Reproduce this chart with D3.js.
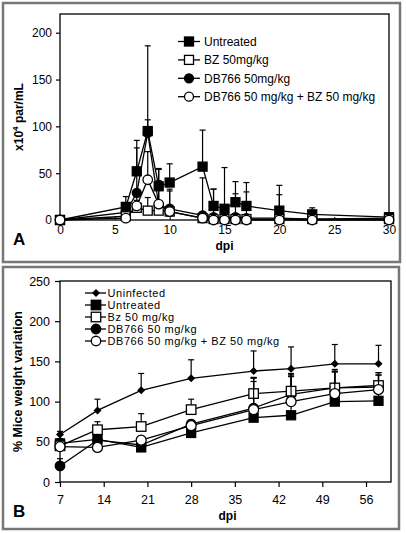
<!DOCTYPE html>
<html><head><meta charset="utf-8">
<script src="https://cdn.jsdelivr.net/npm/d3@7"></script>
<style>body{margin:0;background:#fff}svg{display:block}text{font-family:"Liberation Sans",Arial,sans-serif}</style>
</head><body>
<svg id="c" width="406" height="533"></svg>
<script>
// ---------- Panel A data ----------
const daysA = [0, 6, 7, 8, 9, 10, 13, 14, 15, 16, 17, 20, 23, 30];
const untreatedA = [0, 14, 52, 95, 36, 40, 57, 15, 12, 19, 15, 10, 6, 3];
const untreatedA_sd = [0, 11, 33, 91, 19, 20, 39, 18, 44, 22, 25, 27, 7, 2];
const bzA = [0, 4, 13, 10, 10, 9, 2, 1, 1, 1, 1, 1, 1, 1];
const bzA_sd = [0, 3, 8, 14, 8, 6, 1, 1, 1, 1, 1, 1, 1, 1];
const db766A = [0, 8, 29, 93, 16, 12, 5, 3, 2, 3, 2, 2, 1, 2];
const db766A_sd = [0, 10, 48, 14, 38, 21, 40, 30, 2, 25, 28, 25, 1, 1];
const comboA = [0, 2, 15, 43, 17, 9, 2, 0, 0, 0, 0, 0, 0, 0];
const comboA_sd = [0, 2, 10, 30, 25, 22, 1, 0, 0, 0, 0, 0, 0, 0];
const xTicksA = [0, 5, 10, 15, 20, 25, 30];
const yTicksA = [0, 50, 100, 150, 200];
const legendA = ["Untreated", "BZ 50mg/kg", "DB766 50mg/kg", "DB766 50 mg/kg + BZ 50 mg/kg"];

// ---------- Panel B data ----------
const daysB = [7, 13, 20, 28, 38, 44, 51, 58];
const uninfectedB = [59, 89, 114, 129, 138, 141, 147, 147];
const uninfectedB_sd = [4, 14, 21, 23, 25, 27, 24, 23];
const untreatedB = [48, 53, 43, 61, 80, 83, 100, 101];
const untreatedB_sd = [6, 8, 4, 6, 45, 48, 38, 32];
const bzB = [45, 65, 69, 90, 110, 113, 117, 120];
const bzB_sd = [5, 10, 16, 13, 20, 21, 20, 16];
const db766B = [20, 52, 46, 72, 92, 109, 117, 118];
const db766B_sd = [9, 6, 5, 5, 37, 26, 23, 18];
const comboB = [44, 43, 52, 70, 90, 100, 110, 115];
const comboB_sd = [4, 4, 5, 5, 40, 32, 27, 18];
const xTicksB = [7, 14, 21, 28, 35, 42, 49, 56];
const yTicksB = [0, 50, 100, 150, 200, 250];
const legendB = ["Uninfected", "Untreated", "Bz 50 mg/kg", "DB766 50 mg/kg", "DB766 50 mg/kg + BZ 50 mg/kg"];

const svg = d3.select("#c");
const FONT = "'Liberation Sans', Arial, sans-serif";

// outer panel frames
svg.append("rect").attr("x", 3).attr("y", 3).attr("width", 397).attr("height", 259)
  .attr("fill", "none").attr("stroke", "#777").attr("stroke-width", 2.5);
svg.append("rect").attr("x", 3).attr("y", 267).attr("width", 396).attr("height", 262)
  .attr("fill", "none").attr("stroke", "#777").attr("stroke-width", 2.5);

function marker(g, type, x, y, s) {
  if (type === "fsq" || type === "osq") {
    g.append("rect").attr("x", x - s / 2).attr("y", y - s / 2).attr("width", s).attr("height", s)
      .attr("fill", type === "fsq" ? "#000" : "#fff").attr("stroke", "#000").attr("stroke-width", 1.3);
  } else if (type === "fci" || type === "oci") {
    g.append("circle").attr("cx", x).attr("cy", y).attr("r", s / 2)
      .attr("fill", type === "fci" ? "#000" : "#fff").attr("stroke", "#000").attr("stroke-width", 1.3);
  } else if (type === "dia") {
    const r = s / 2;
    g.append("path").attr("d", `M${x},${y - r}L${x + r},${y}L${x},${y + r}L${x - r},${y}Z`).attr("fill", "#000");
  }
}

function series(g, x, y, days, vals, sds, type, size) {
  const line = d3.line().x((d, i) => x(days[i])).y(d => y(d));
  days.forEach((d, i) => {
    if (sds[i] > 0.5) {
      const top = y(vals[i] + sds[i]);
      g.append("line").attr("x1", x(d)).attr("x2", x(d)).attr("y1", y(vals[i])).attr("y2", top)
        .attr("stroke", "#000").attr("stroke-width", 1.2);
      g.append("line").attr("x1", x(d) - 3).attr("x2", x(d) + 3).attr("y1", top).attr("y2", top)
        .attr("stroke", "#000").attr("stroke-width", 1.2);
    }
  });
  g.append("path").datum(vals).attr("d", line).attr("fill", "none").attr("stroke", "#000").attr("stroke-width", 1.3);
  vals.forEach((v, i) => marker(g, type, x(days[i]), y(v), size));
}

// ================= Panel A =================
{
  const L = 60, R = 389, T = 14, B = 220;
  const x = d3.scaleLinear().domain([0, 30]).range([L, R]);
  const y = d3.scaleLinear().domain([0, 220]).range([B, T]);
  const g = svg.append("g");
  g.append("rect").attr("x", L).attr("y", T).attr("width", R - L).attr("height", B - T)
    .attr("fill", "none").attr("stroke", "#000").attr("stroke-width", 1.3);
  const ya = g.append("g").attr("transform", `translate(${L},0)`)
    .call(d3.axisLeft(y).tickValues(yTicksA).tickSize(4).tickPadding(4));
  ya.select(".domain").remove();
  ya.selectAll("line").attr("stroke-width", 1.2);
  ya.selectAll("text").attr("font-size", 12).attr("font-family", FONT).attr("fill", "#000");
  const xa = g.append("g").attr("transform", `translate(0,${B})`)
    .call(d3.axisBottom(x).tickValues(xTicksA).tickSize(-3).tickPadding(5.5));
  xa.select(".domain").remove();
  xa.selectAll("line").attr("stroke-width", 1);
  xa.selectAll("text").attr("font-size", 12).attr("font-family", FONT).attr("fill", "#000");

  series(g, x, y, daysA, db766A, db766A_sd, "fci", 9);
  series(g, x, y, daysA, untreatedA, untreatedA_sd, "fsq", 9);
  series(g, x, y, daysA, bzA, bzA_sd, "osq", 9);
  series(g, x, y, daysA, comboA, comboA_sd, "oci", 9.5);

  const types = ["fsq", "osq", "fci", "oci"];
  legendA.forEach((t, i) => {
    const cy = 41.5 + i * 18.4;
    g.append("line").attr("x1", 178).attr("x2", 200).attr("y1", cy).attr("y2", cy).attr("stroke", "#000").attr("stroke-width", 1.3);
    marker(g, types[i], 189, cy, 9);
    g.append("text").attr("x", 204).attr("y", cy + 4.5).attr("font-size", 12).text(t);
  });

  g.append("text").attr("x", (L + R) / 2).attr("y", 250).attr("text-anchor", "middle")
    .attr("font-size", 12).attr("font-weight", "bold").text("dpi");
  const yl = g.append("text").attr("transform", `translate(23,${(T + B) / 2}) rotate(-90)`)
    .attr("text-anchor", "middle").attr("font-size", 12).attr("font-weight", "bold");
  yl.append("tspan").text("x10");
  yl.append("tspan").attr("dy", -5).attr("font-size", 8).text("4");
  yl.append("tspan").attr("dy", 5).text(" par/mL");
  g.append("text").attr("x", 13).attr("y", 245).attr("font-size", 17).attr("font-weight", "bold").text("A");
}

// ================= Panel B =================
{
  const L = 60, R = 391, T = 281, B = 482;
  const x = d3.scaleLinear().domain([7, 60]).range([L, R]);
  const y = d3.scaleLinear().domain([0, 250]).range([B, T]);
  const g = svg.append("g");
  g.append("rect").attr("x", L).attr("y", T).attr("width", R - L).attr("height", B - T)
    .attr("fill", "none").attr("stroke", "#000").attr("stroke-width", 1.3);
  const ya = g.append("g").attr("transform", `translate(${L},0)`)
    .call(d3.axisLeft(y).tickValues(yTicksB).tickSize(5).tickPadding(5));
  ya.select(".domain").remove();
  ya.selectAll("line").attr("stroke-width", 1.2);
  ya.selectAll("text").attr("font-size", 12.5).attr("font-family", FONT).attr("fill", "#000");
  const xa = g.append("g").attr("transform", `translate(0,${B})`)
    .call(d3.axisBottom(x).tickValues(xTicksB).tickSize(5).tickPadding(8));
  xa.select(".domain").remove();
  xa.selectAll("line").attr("stroke-width", 1.2);
  xa.selectAll("text").attr("font-size", 12.5).attr("font-family", FONT).attr("fill", "#000");

  series(g, x, y, daysB, uninfectedB, uninfectedB_sd, "dia", 8);
  series(g, x, y, daysB, db766B, db766B_sd, "fci", 9.5);
  series(g, x, y, daysB, untreatedB, untreatedB_sd, "fsq", 9);
  series(g, x, y, daysB, bzB, bzB_sd, "osq", 9.5);
  series(g, x, y, daysB, comboB, comboB_sd, "oci", 10);

  const types = ["dia", "fsq", "osq", "fci", "oci"];
  legendB.forEach((t, i) => {
    const cy = 293 + i * 12;
    g.append("line").attr("x1", 85).attr("x2", 106).attr("y1", cy).attr("y2", cy).attr("stroke", "#000").attr("stroke-width", 1.3);
    marker(g, types[i], 96, cy, types[i] === "dia" ? 8 : 9.5);
    g.append("text").attr("x", 107.5).attr("y", cy + 4).attr("font-size", 11).attr("letter-spacing", 0.55).text(t);
  });

  g.append("text").attr("x", (L + R) / 2 + 2).attr("y", 520).attr("text-anchor", "middle")
    .attr("font-size", 12).attr("font-weight", "bold").text("dpi");
  g.append("text").attr("transform", `translate(22,${(T + B) / 2}) rotate(-90)`)
    .attr("text-anchor", "middle").attr("font-size", 12.5).attr("font-weight", "bold").text("% Mice weight variation");
  g.append("text").attr("x", 13).attr("y", 517).attr("font-size", 17).attr("font-weight", "bold").text("B");
}
</script>
</body></html>
